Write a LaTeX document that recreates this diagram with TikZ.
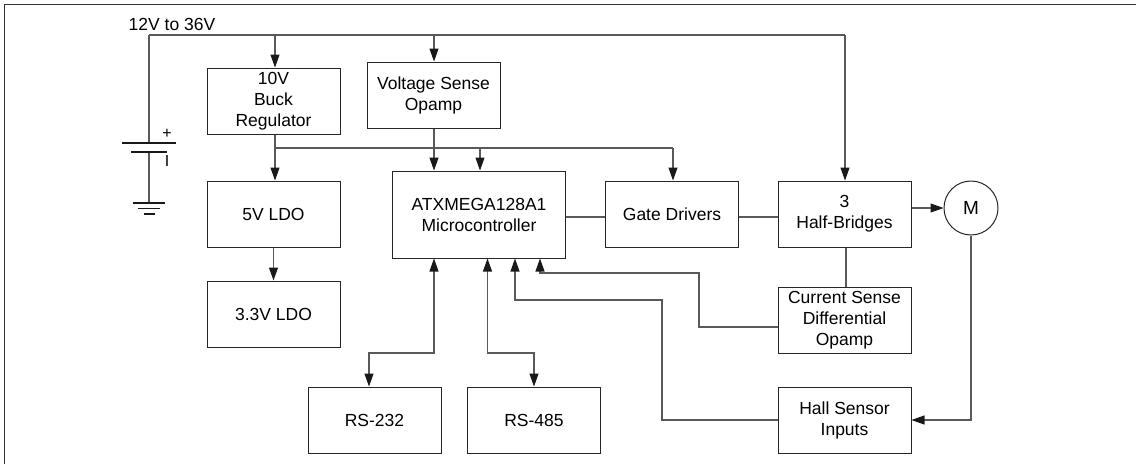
\documentclass[tikz,border=0pt]{standalone}
\usepackage{fontspec}
\setmainfont{Liberation Sans}
\usetikzlibrary{arrows.meta}
\begin{document}
\begin{tikzpicture}[x=1pt,y=-1pt,
  blk/.style={draw=black!85, line width=1pt, minimum width=133pt, minimum height=66pt, align=center, inner sep=0pt, font=\fontsize{17.5}{21}\selectfont},
  wire/.style={draw=black!65, line width=1.1pt},
  tip/.tip={Triangle[length=13pt,width=9pt,color=black!90]},
  arr/.style={wire, -tip},
  darr/.style={wire, tip-tip},
  lbl/.style={inner sep=0pt, font=\fontsize{17.5}{21}\selectfont},
  pol/.style={inner sep=0pt, font=\fontsize{16}{16}\selectfont},
  plate/.style={draw=black!90, line width=1.3pt},
]
\useasboundingbox (0,0) rectangle (1136,464);
% frame
\draw[black!80, line width=1.6pt] (4.5,464) -- (4.5,4.5) -- (1136,4.5);

% blocks
\node[blk] (buck) at (273.5,101) {10V\\Buck\\Regulator};
\node[blk] (vs) at (433.5,95) {Voltage Sense\\Opamp};
\node[blk] (ldo5) at (273.5,214) {5V LDO};
\node[blk] (ldo33) at (273.5,314) {3.3V LDO};
\node[blk, minimum width=173pt, minimum height=87pt] (atx) at (479,214.5) {ATXMEGA128A1\\Microcontroller};
\node[blk] (gd) at (672,214) {Gate Drivers};
\node[blk] (hb) at (844.5,214) {3\\Half-Bridges};
\node[draw=black!85, line width=1pt, circle, minimum size=54pt, inner sep=0pt, font=\fontsize{19}{19}\selectfont] (m) at (971,208) {M};
\node[blk] (cs) at (844.5,320) {Current Sense\\Differential\\Opamp};
\node[blk] (hall) at (844.5,420) {Hall Sensor\\Inputs};
\node[blk] (rs232) at (374.5,420) {RS-232};
\node[blk] (rs485) at (534,420) {RS-485};

% supply label
\node[lbl] (vin) at (172,24) {12V to 36V};

% battery and ground
\coordinate (bt) at (149,35);
\coordinate (bp) at (149,143);
\coordinate (bn) at (149,152);
\coordinate (gnd) at (149,203);
\draw[wire] (bt) -- (bp);
\draw[wire] (bn) -- (gnd);
\draw[plate] (122,143) -- (176,143);
\draw[plate] (131,152) -- (167,152);
\node[pol] (plus) at (167,134) {+};
\node[pol] (minus) at (167,161) {I};
\draw[plate] (133,203) -- (165,203);
\draw[plate] (138,208.5) -- (160,208.5);
\draw[plate] (143.5,214) -- (154.5,214);

% supply rail
\coordinate (r1) at (275,35);
\coordinate (r2) at (434,35);
\coordinate (r3) at (845,35);
\draw[wire] (bt) -- (r3);
\draw[arr] (r1) -- (r1 |- buck.north);
\draw[arr] (r2) -- (r2 |- vs.north);
\draw[arr] (r3) -- (r3 |- hb.north);

% 10V bus
\coordinate (b0) at (275,148);
\coordinate (b1) at (480,148);
\coordinate (b2) at (673,148);
\draw[arr] (buck.south -| b0) -- (b0 |- ldo5.north);
\draw[wire] (b0) -- (b2);
\draw[arr] (b1) -- (b1 |- atx.north);
\draw[arr] (b2) -- (b2 |- gd.north);
\draw[arr] (vs.south -| r2) -- (r2 |- atx.north);

\draw[arr] (ldo5.south) -- (ldo33.north);

% control path
\coordinate (c0) at (0,217);
\draw[wire] (atx.east |- c0) -- (gd.west |- c0);
\draw[wire] (gd.east |- c0) -- (hb.west |- c0);
\draw[arr] (hb.east |- m) -- (m.west);
\draw[wire] (hb.south -| 846,0) -- (cs.north -| 846,0);

% motor to hall
\coordinate (mh) at (971,420);
\draw[arr] (m.south) -- (mh) -- (hall.east |- mh);

% current sense feedback
\coordinate (cs1) at (699,327);
\coordinate (cs2) at (699,273);
\coordinate (cs3) at (540,273);
\draw[arr] (cs.west |- cs1) -- (cs1) -- (cs2) -- (cs3) -- (cs3 |- atx.south);

% hall feedback
\coordinate (h1) at (662,420);
\coordinate (h2) at (662,300);
\coordinate (h3) at (515,300);
\draw[arr] (hall.west |- h1) -- (h1) -- (h2) -- (h3) -- (h3 |- atx.south);

% serial links
\coordinate (s1) at (434,353);
\coordinate (s2) at (369,353);
\draw[darr] (s1 |- atx.south) -- (s1) -- (s2) -- (s2 |- rs232.north);
\coordinate (t1) at (487.5,353);
\coordinate (t2) at (534,353);
\draw[darr] (t1 |- atx.south) -- (t1) -- (t2) -- (t2 |- rs485.north);
\end{tikzpicture}
\end{document}
